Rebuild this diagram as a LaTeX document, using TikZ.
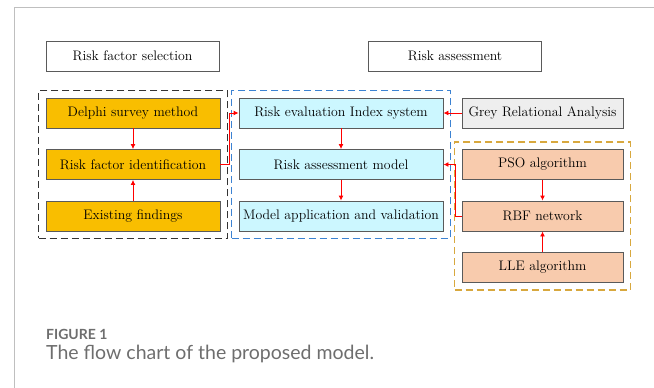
\documentclass[tikz,border=0pt]{standalone}
\usepackage{fontspec}
\newfontfamily\capfont{Lato}
\usetikzlibrary{arrows.meta,positioning,fit}
\definecolor{findgold}{HTML}{F9BE00}
\definecolor{evalcyan}{HTML}{CCF7FF}
\definecolor{algosalmon}{HTML}{F8CBAD}
\definecolor{greyfill}{HTML}{EEEEEE}
\definecolor{edgegrey}{HTML}{5A5A5A}
\definecolor{dashblue}{HTML}{3C82D2}
\definecolor{dashgold}{HTML}{D8A83E}
\definecolor{capgrey}{HTML}{6E6E6E}

\begin{document}
\begin{tikzpicture}[x=1pt,y=-1pt,>={Latex[length=5pt,width=5pt]},node distance=51.5pt,on grid,
    box/.style={draw=edgegrey,line width=0.9pt,minimum height=30pt,inner sep=0pt,font=\fontsize{13.8}{16}\selectfont},
    titlebox/.style={box,fill=white,minimum width=173pt},
    factor/.style={box,fill=findgold,minimum width=174pt},
    evalbox/.style={box,fill=evalcyan,minimum width=204pt},
    algo/.style={box,fill=algosalmon,minimum width=161pt},
    group/.style={draw=#1,line width=1.2pt,dash pattern=on 7pt off 4pt,inner sep=7pt},
    flow/.style={->,red,line width=0.9pt}]
  \useasboundingbox (0,0) rectangle (654,388);
  % figure frame
  \draw[black!25,line width=1pt] (14,388) -- (14,7) -- (654,7);

  % headings
  \node[titlebox] (selhead) at (132.5,56) {Risk factor selection};
  \node[titlebox] (asshead) at (455,56) {Risk assessment};

  % risk factor selection
  \node[factor] (delphi) at (133,113) {Delphi survey method};
  \node[factor] (ident) [below =of delphi] {Risk factor identification};
  \node[factor] (exist) [below =of ident] {Existing findings};

  % risk assessment
  \node[evalbox] (index) at (341,113) {Risk evaluation Index system};
  \node[evalbox] (model) [below =of index] {Risk assessment model};
  \node[evalbox] (apply) [below =of model] {Model application and validation};

  % methods
  \node[algo,fill=greyfill] (grey) at (542.5,113) {Grey Relational Analysis};
  \node[algo] (pso) [below =of grey] {PSO algorithm};
  \node[algo] (rbf) [below =of pso] {RBF network};
  \node[algo] (lle) [below =of rbf] {LLE algorithm};

  % dashed groups
  \node[group=black!80] (selgroup) [fit=(delphi)(exist)] {};
  \node[group=dashblue] (assgroup) [fit=(index)(apply)] {};
  \node[group=dashgold] (algogroup) [fit=(pso)(lle)] {};

  \draw[flow] (delphi) -- (ident);
  \draw[flow] (exist) -- (ident);
  \draw[flow] (ident.east) -- ++(9,0) |- (index.west);
  \draw[flow] (index) -- (model);
  \draw[flow] (model) -- (apply);
  \draw[flow] (grey) -- (index);
  \draw[flow] (pso) -- (rbf);
  \draw[flow] (lle) -- (rbf);
  \draw[flow] (rbf.west) -- ++(-6,0) |- (model.east);

  % caption
  \node[anchor=base west,inner sep=0pt,text=capgrey,font=\capfont\bfseries\fontsize{14}{16}\selectfont] (fignum) at (46,339) {FIGURE 1};
  \node[anchor=base west,inner sep=0pt,text=capgrey,font=\capfont\fontsize{19.5}{23}\selectfont] (figcap) at (46,359) {The flow chart of the proposed model.};
\end{tikzpicture}
\end{document}
